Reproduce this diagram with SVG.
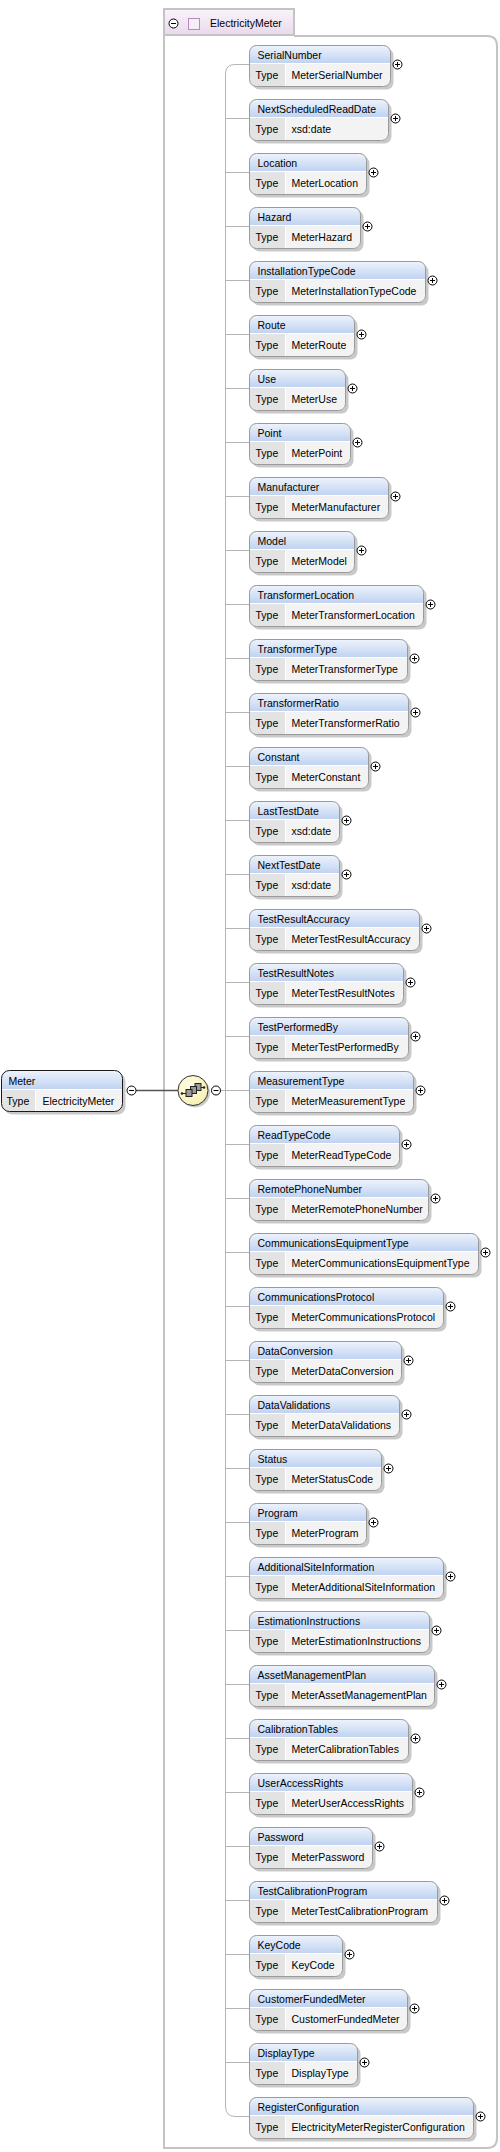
<svg xmlns="http://www.w3.org/2000/svg" xmlns:xlink="http://www.w3.org/1999/xlink" width="500" height="2152" viewBox="0 0 500 2152">
<style>
text{font-family:"Liberation Sans",Arial,sans-serif;font-size:10.5px;fill:#000}
.sh{fill:#c9c9c9}
.row{fill:#e3e3e3}
.hd{fill:url(#gHead)}
.val{fill:#f3f3f3}
.bd{fill:none;stroke:#9a9a9a;stroke-width:1}
.ln{fill:none;stroke:#ffffff;stroke-width:1}
.pl circle{fill:#fff;stroke:#000;stroke-width:1}
.pl path{stroke:#000;stroke-width:1}
</style>
<defs>
<linearGradient id="gHead" x1="0" y1="0" x2="0" y2="1">
<stop offset="0" stop-color="#eef3fc"/>
<stop offset="1" stop-color="#bfd2f1"/>
</linearGradient>
<linearGradient id="gLav" x1="0" y1="0" x2="0" y2="1">
<stop offset="0" stop-color="#faf4fa"/>
<stop offset="1" stop-color="#e9d9ec"/>
</linearGradient>
<radialGradient id="gYel" cx="0.4" cy="0.35" r="0.7">
<stop offset="0" stop-color="#fffde6"/>
<stop offset="1" stop-color="#f6efb0"/>
</radialGradient>
<g id="plus" class="pl"><circle cx="0" cy="0" r="4.5"/><path d="M-2.5,0H2.5M0,-2.5V2.5"/></g>
<g id="minus" class="pl"><circle cx="0" cy="0" r="4.5"/><path d="M-2.5,0H2.5"/></g>
</defs>

<g id="ElectricityMeter">
<path d="M164,35V2148H487Q497,2148 497,2138V46Q497,36 487,36H294" fill="none" stroke="#c4c4c4" stroke-width="2"/>
<rect x="164" y="9" width="130" height="26" fill="url(#gLav)" stroke="#c4c4c4" stroke-width="2"/>
<use href="#minus" x="173.5" y="23.5"/>
<rect x="188.5" y="18.5" width="11" height="11" fill="#f6eef6" stroke="#b58cc2" stroke-width="1"/>
<text x="210" y="27">ElectricityMeter</text>
</g>

<g id="connectors" fill="none" stroke="#b4b4b4" stroke-width="1">
<path d="M249,64.5H235Q225.5,64.5 225.5,74V2106Q225.5,2116.5 235,2116.5H249"/>
<path d="M225.5,118.5H249M225.5,172.5H249M225.5,226.5H249M225.5,280.5H249M225.5,334.5H249M225.5,388.5H249M225.5,442.5H249M225.5,496.5H249M225.5,550.5H249M225.5,604.5H249M225.5,658.5H249M225.5,712.5H249M225.5,766.5H249M225.5,820.5H249M225.5,874.5H249M225.5,928.5H249M225.5,982.5H249M225.5,1036.5H249M225.5,1090.5H249M225.5,1144.5H249M225.5,1198.5H249M225.5,1252.5H249M225.5,1306.5H249M225.5,1360.5H249M225.5,1414.5H249M225.5,1468.5H249M225.5,1522.5H249M225.5,1576.5H249M225.5,1630.5H249M225.5,1684.5H249M225.5,1738.5H249M225.5,1792.5H249M225.5,1846.5H249M225.5,1900.5H249M225.5,1954.5H249M225.5,2008.5H249M225.5,2062.5H249"/>
<path d="M220.5,1090.5H225.5"/>
<path d="M136,1090.5H178" stroke="#555" stroke-width="1.6"/>
</g>

<g id="Meter" transform="translate(1.5,1070.5)">
<rect class="sh" x="3" y="3" width="121" height="41" rx="8"/>
<rect class="row" width="121" height="41" rx="8"/>
<path class="hd" d="M0,19V8Q0,0 8,0H113Q121,0 121,8V19Z"/>
<path class="val" d="M34,19H121V33Q121,41 113,41H34Z"/>
<rect x="0" y="0" width="121" height="41" rx="8" fill="none" stroke="#1a1a1a" stroke-width="1"/>
<path class="ln" d="M0.5,19H120.5M34,19V40.5"/>
<text x="7" y="14">Meter</text>
<text x="5" y="34">Type</text>
<text x="41" y="34">ElectricityMeter</text>
<use href="#minus" x="130" y="20"/>
</g>

<g id="sequence">
<circle cx="195" cy="1092.5" r="15" fill="#c9c9c9"/>
<circle cx="193" cy="1090.5" r="15" fill="url(#gYel)" stroke="#333" stroke-width="1"/>
<path d="M182,1093.5H186M200,1087.5H204" stroke="#222" stroke-width="1"/>
<circle cx="182" cy="1093.5" r="1.3" fill="#222"/>
<circle cx="204" cy="1087.5" r="1.3" fill="#222"/>
<rect x="195" y="1083.5" width="6" height="7" fill="#9a9a9a" stroke="#222" stroke-width="1"/>
<rect x="190.5" y="1086.5" width="6" height="7" fill="#9a9a9a" stroke="#222" stroke-width="1"/>
<rect x="186" y="1089.5" width="6" height="7" fill="#9a9a9a" stroke="#222" stroke-width="1"/>
<use href="#minus" x="216" y="1090.5"/>
</g>

<g id="SerialNumber" transform="translate(249.5,45.5)">
<rect class="sh" x="3" y="3" width="141" height="41" rx="7"/><rect class="row" width="141" height="41" rx="7"/>
<path class="hd" d="M0,18V7Q0,0 7,0H134Q141,0 141,7V18Z"/><path class="val" d="M36,18H141V34Q141,41 134,41H36Z"/>
<rect class="bd" width="141" height="41" rx="7"/><path class="ln" d="M0.5,18H140.5M36,18V40.5"/>
<text x="8" y="13.5">SerialNumber</text><text x="6" y="33.5">Type</text><text x="42" y="33.5">MeterSerialNumber</text>
<use href="#plus" x="148" y="19"/>
</g>

<g id="NextScheduledReadDate" transform="translate(249.5,99.5)">
<rect class="sh" x="3" y="3" width="139" height="41" rx="7"/><rect class="row" width="139" height="41" rx="7"/>
<path class="hd" d="M0,18V7Q0,0 7,0H132Q139,0 139,7V18Z"/><path class="val" d="M36,18H139V34Q139,41 132,41H36Z"/>
<rect class="bd" width="139" height="41" rx="7"/><path class="ln" d="M0.5,18H138.5M36,18V40.5"/>
<text x="8" y="13.5">NextScheduledReadDate</text><text x="6" y="33.5">Type</text><text x="42" y="33.5">xsd:date</text>
<use href="#plus" x="146" y="19"/>
</g>

<g id="Location" transform="translate(249.5,153.5)">
<rect class="sh" x="3" y="3" width="117" height="41" rx="7"/><rect class="row" width="117" height="41" rx="7"/>
<path class="hd" d="M0,18V7Q0,0 7,0H110Q117,0 117,7V18Z"/><path class="val" d="M36,18H117V34Q117,41 110,41H36Z"/>
<rect class="bd" width="117" height="41" rx="7"/><path class="ln" d="M0.5,18H116.5M36,18V40.5"/>
<text x="8" y="13.5">Location</text><text x="6" y="33.5">Type</text><text x="42" y="33.5">MeterLocation</text>
<use href="#plus" x="124" y="19"/>
</g>

<g id="Hazard" transform="translate(249.5,207.5)">
<rect class="sh" x="3" y="3" width="111" height="41" rx="7"/><rect class="row" width="111" height="41" rx="7"/>
<path class="hd" d="M0,18V7Q0,0 7,0H104Q111,0 111,7V18Z"/><path class="val" d="M36,18H111V34Q111,41 104,41H36Z"/>
<rect class="bd" width="111" height="41" rx="7"/><path class="ln" d="M0.5,18H110.5M36,18V40.5"/>
<text x="8" y="13.5">Hazard</text><text x="6" y="33.5">Type</text><text x="42" y="33.5">MeterHazard</text>
<use href="#plus" x="118" y="19"/>
</g>

<g id="InstallationTypeCode" transform="translate(249.5,261.5)">
<rect class="sh" x="3" y="3" width="176" height="41" rx="7"/><rect class="row" width="176" height="41" rx="7"/>
<path class="hd" d="M0,18V7Q0,0 7,0H169Q176,0 176,7V18Z"/><path class="val" d="M36,18H176V34Q176,41 169,41H36Z"/>
<rect class="bd" width="176" height="41" rx="7"/><path class="ln" d="M0.5,18H175.5M36,18V40.5"/>
<text x="8" y="13.5">InstallationTypeCode</text><text x="6" y="33.5">Type</text><text x="42" y="33.5">MeterInstallationTypeCode</text>
<use href="#plus" x="183" y="19"/>
</g>

<g id="Route" transform="translate(249.5,315.5)">
<rect class="sh" x="3" y="3" width="105" height="41" rx="7"/><rect class="row" width="105" height="41" rx="7"/>
<path class="hd" d="M0,18V7Q0,0 7,0H98Q105,0 105,7V18Z"/><path class="val" d="M36,18H105V34Q105,41 98,41H36Z"/>
<rect class="bd" width="105" height="41" rx="7"/><path class="ln" d="M0.5,18H104.5M36,18V40.5"/>
<text x="8" y="13.5">Route</text><text x="6" y="33.5">Type</text><text x="42" y="33.5">MeterRoute</text>
<use href="#plus" x="112" y="19"/>
</g>

<g id="Use" transform="translate(249.5,369.5)">
<rect class="sh" x="3" y="3" width="96" height="41" rx="7"/><rect class="row" width="96" height="41" rx="7"/>
<path class="hd" d="M0,18V7Q0,0 7,0H89Q96,0 96,7V18Z"/><path class="val" d="M36,18H96V34Q96,41 89,41H36Z"/>
<rect class="bd" width="96" height="41" rx="7"/><path class="ln" d="M0.5,18H95.5M36,18V40.5"/>
<text x="8" y="13.5">Use</text><text x="6" y="33.5">Type</text><text x="42" y="33.5">MeterUse</text>
<use href="#plus" x="103" y="19"/>
</g>

<g id="Point" transform="translate(249.5,423.5)">
<rect class="sh" x="3" y="3" width="101" height="41" rx="7"/><rect class="row" width="101" height="41" rx="7"/>
<path class="hd" d="M0,18V7Q0,0 7,0H94Q101,0 101,7V18Z"/><path class="val" d="M36,18H101V34Q101,41 94,41H36Z"/>
<rect class="bd" width="101" height="41" rx="7"/><path class="ln" d="M0.5,18H100.5M36,18V40.5"/>
<text x="8" y="13.5">Point</text><text x="6" y="33.5">Type</text><text x="42" y="33.5">MeterPoint</text>
<use href="#plus" x="108" y="19"/>
</g>

<g id="Manufacturer" transform="translate(249.5,477.5)">
<rect class="sh" x="3" y="3" width="139" height="41" rx="7"/><rect class="row" width="139" height="41" rx="7"/>
<path class="hd" d="M0,18V7Q0,0 7,0H132Q139,0 139,7V18Z"/><path class="val" d="M36,18H139V34Q139,41 132,41H36Z"/>
<rect class="bd" width="139" height="41" rx="7"/><path class="ln" d="M0.5,18H138.5M36,18V40.5"/>
<text x="8" y="13.5">Manufacturer</text><text x="6" y="33.5">Type</text><text x="42" y="33.5">MeterManufacturer</text>
<use href="#plus" x="146" y="19"/>
</g>

<g id="Model" transform="translate(249.5,531.5)">
<rect class="sh" x="3" y="3" width="105" height="41" rx="7"/><rect class="row" width="105" height="41" rx="7"/>
<path class="hd" d="M0,18V7Q0,0 7,0H98Q105,0 105,7V18Z"/><path class="val" d="M36,18H105V34Q105,41 98,41H36Z"/>
<rect class="bd" width="105" height="41" rx="7"/><path class="ln" d="M0.5,18H104.5M36,18V40.5"/>
<text x="8" y="13.5">Model</text><text x="6" y="33.5">Type</text><text x="42" y="33.5">MeterModel</text>
<use href="#plus" x="112" y="19"/>
</g>

<g id="TransformerLocation" transform="translate(249.5,585.5)">
<rect class="sh" x="3" y="3" width="174" height="41" rx="7"/><rect class="row" width="174" height="41" rx="7"/>
<path class="hd" d="M0,18V7Q0,0 7,0H167Q174,0 174,7V18Z"/><path class="val" d="M36,18H174V34Q174,41 167,41H36Z"/>
<rect class="bd" width="174" height="41" rx="7"/><path class="ln" d="M0.5,18H173.5M36,18V40.5"/>
<text x="8" y="13.5">TransformerLocation</text><text x="6" y="33.5">Type</text><text x="42" y="33.5">MeterTransformerLocation</text>
<use href="#plus" x="181" y="19"/>
</g>

<g id="TransformerType" transform="translate(249.5,639.5)">
<rect class="sh" x="3" y="3" width="158" height="41" rx="7"/><rect class="row" width="158" height="41" rx="7"/>
<path class="hd" d="M0,18V7Q0,0 7,0H151Q158,0 158,7V18Z"/><path class="val" d="M36,18H158V34Q158,41 151,41H36Z"/>
<rect class="bd" width="158" height="41" rx="7"/><path class="ln" d="M0.5,18H157.5M36,18V40.5"/>
<text x="8" y="13.5">TransformerType</text><text x="6" y="33.5">Type</text><text x="42" y="33.5">MeterTransformerType</text>
<use href="#plus" x="165" y="19"/>
</g>

<g id="TransformerRatio" transform="translate(249.5,693.5)">
<rect class="sh" x="3" y="3" width="159" height="41" rx="7"/><rect class="row" width="159" height="41" rx="7"/>
<path class="hd" d="M0,18V7Q0,0 7,0H152Q159,0 159,7V18Z"/><path class="val" d="M36,18H159V34Q159,41 152,41H36Z"/>
<rect class="bd" width="159" height="41" rx="7"/><path class="ln" d="M0.5,18H158.5M36,18V40.5"/>
<text x="8" y="13.5">TransformerRatio</text><text x="6" y="33.5">Type</text><text x="42" y="33.5">MeterTransformerRatio</text>
<use href="#plus" x="166" y="19"/>
</g>

<g id="Constant" transform="translate(249.5,747.5)">
<rect class="sh" x="3" y="3" width="119" height="41" rx="7"/><rect class="row" width="119" height="41" rx="7"/>
<path class="hd" d="M0,18V7Q0,0 7,0H112Q119,0 119,7V18Z"/><path class="val" d="M36,18H119V34Q119,41 112,41H36Z"/>
<rect class="bd" width="119" height="41" rx="7"/><path class="ln" d="M0.5,18H118.5M36,18V40.5"/>
<text x="8" y="13.5">Constant</text><text x="6" y="33.5">Type</text><text x="42" y="33.5">MeterConstant</text>
<use href="#plus" x="126" y="19"/>
</g>

<g id="LastTestDate" transform="translate(249.5,801.5)">
<rect class="sh" x="3" y="3" width="90" height="41" rx="7"/><rect class="row" width="90" height="41" rx="7"/>
<path class="hd" d="M0,18V7Q0,0 7,0H83Q90,0 90,7V18Z"/><path class="val" d="M36,18H90V34Q90,41 83,41H36Z"/>
<rect class="bd" width="90" height="41" rx="7"/><path class="ln" d="M0.5,18H89.5M36,18V40.5"/>
<text x="8" y="13.5">LastTestDate</text><text x="6" y="33.5">Type</text><text x="42" y="33.5">xsd:date</text>
<use href="#plus" x="97" y="19"/>
</g>

<g id="NextTestDate" transform="translate(249.5,855.5)">
<rect class="sh" x="3" y="3" width="90" height="41" rx="7"/><rect class="row" width="90" height="41" rx="7"/>
<path class="hd" d="M0,18V7Q0,0 7,0H83Q90,0 90,7V18Z"/><path class="val" d="M36,18H90V34Q90,41 83,41H36Z"/>
<rect class="bd" width="90" height="41" rx="7"/><path class="ln" d="M0.5,18H89.5M36,18V40.5"/>
<text x="8" y="13.5">NextTestDate</text><text x="6" y="33.5">Type</text><text x="42" y="33.5">xsd:date</text>
<use href="#plus" x="97" y="19"/>
</g>

<g id="TestResultAccuracy" transform="translate(249.5,909.5)">
<rect class="sh" x="3" y="3" width="170" height="41" rx="7"/><rect class="row" width="170" height="41" rx="7"/>
<path class="hd" d="M0,18V7Q0,0 7,0H163Q170,0 170,7V18Z"/><path class="val" d="M36,18H170V34Q170,41 163,41H36Z"/>
<rect class="bd" width="170" height="41" rx="7"/><path class="ln" d="M0.5,18H169.5M36,18V40.5"/>
<text x="8" y="13.5">TestResultAccuracy</text><text x="6" y="33.5">Type</text><text x="42" y="33.5">MeterTestResultAccuracy</text>
<use href="#plus" x="177" y="19"/>
</g>

<g id="TestResultNotes" transform="translate(249.5,963.5)">
<rect class="sh" x="3" y="3" width="154" height="41" rx="7"/><rect class="row" width="154" height="41" rx="7"/>
<path class="hd" d="M0,18V7Q0,0 7,0H147Q154,0 154,7V18Z"/><path class="val" d="M36,18H154V34Q154,41 147,41H36Z"/>
<rect class="bd" width="154" height="41" rx="7"/><path class="ln" d="M0.5,18H153.5M36,18V40.5"/>
<text x="8" y="13.5">TestResultNotes</text><text x="6" y="33.5">Type</text><text x="42" y="33.5">MeterTestResultNotes</text>
<use href="#plus" x="161" y="19"/>
</g>

<g id="TestPerformedBy" transform="translate(249.5,1017.5)">
<rect class="sh" x="3" y="3" width="159" height="41" rx="7"/><rect class="row" width="159" height="41" rx="7"/>
<path class="hd" d="M0,18V7Q0,0 7,0H152Q159,0 159,7V18Z"/><path class="val" d="M36,18H159V34Q159,41 152,41H36Z"/>
<rect class="bd" width="159" height="41" rx="7"/><path class="ln" d="M0.5,18H158.5M36,18V40.5"/>
<text x="8" y="13.5">TestPerformedBy</text><text x="6" y="33.5">Type</text><text x="42" y="33.5">MeterTestPerformedBy</text>
<use href="#plus" x="166" y="19"/>
</g>

<g id="MeasurementType" transform="translate(249.5,1071.5)">
<rect class="sh" x="3" y="3" width="164" height="41" rx="7"/><rect class="row" width="164" height="41" rx="7"/>
<path class="hd" d="M0,18V7Q0,0 7,0H157Q164,0 164,7V18Z"/><path class="val" d="M36,18H164V34Q164,41 157,41H36Z"/>
<rect class="bd" width="164" height="41" rx="7"/><path class="ln" d="M0.5,18H163.5M36,18V40.5"/>
<text x="8" y="13.5">MeasurementType</text><text x="6" y="33.5">Type</text><text x="42" y="33.5">MeterMeasurementType</text>
<use href="#plus" x="171" y="19"/>
</g>

<g id="ReadTypeCode" transform="translate(249.5,1125.5)">
<rect class="sh" x="3" y="3" width="150" height="41" rx="7"/><rect class="row" width="150" height="41" rx="7"/>
<path class="hd" d="M0,18V7Q0,0 7,0H143Q150,0 150,7V18Z"/><path class="val" d="M36,18H150V34Q150,41 143,41H36Z"/>
<rect class="bd" width="150" height="41" rx="7"/><path class="ln" d="M0.5,18H149.5M36,18V40.5"/>
<text x="8" y="13.5">ReadTypeCode</text><text x="6" y="33.5">Type</text><text x="42" y="33.5">MeterReadTypeCode</text>
<use href="#plus" x="157" y="19"/>
</g>

<g id="RemotePhoneNumber" transform="translate(249.5,1179.5)">
<rect class="sh" x="3" y="3" width="179" height="41" rx="7"/><rect class="row" width="179" height="41" rx="7"/>
<path class="hd" d="M0,18V7Q0,0 7,0H172Q179,0 179,7V18Z"/><path class="val" d="M36,18H179V34Q179,41 172,41H36Z"/>
<rect class="bd" width="179" height="41" rx="7"/><path class="ln" d="M0.5,18H178.5M36,18V40.5"/>
<text x="8" y="13.5">RemotePhoneNumber</text><text x="6" y="33.5">Type</text><text x="42" y="33.5">MeterRemotePhoneNumber</text>
<use href="#plus" x="186" y="19"/>
</g>

<g id="CommunicationsEquipmentType" transform="translate(249.5,1233.5)">
<rect class="sh" x="3" y="3" width="229" height="41" rx="7"/><rect class="row" width="229" height="41" rx="7"/>
<path class="hd" d="M0,18V7Q0,0 7,0H222Q229,0 229,7V18Z"/><path class="val" d="M36,18H229V34Q229,41 222,41H36Z"/>
<rect class="bd" width="229" height="41" rx="7"/><path class="ln" d="M0.5,18H228.5M36,18V40.5"/>
<text x="8" y="13.5">CommunicationsEquipmentType</text><text x="6" y="33.5">Type</text><text x="42" y="33.5">MeterCommunicationsEquipmentType</text>
<use href="#plus" x="236" y="19"/>
</g>

<g id="CommunicationsProtocol" transform="translate(249.5,1287.5)">
<rect class="sh" x="3" y="3" width="194" height="41" rx="7"/><rect class="row" width="194" height="41" rx="7"/>
<path class="hd" d="M0,18V7Q0,0 7,0H187Q194,0 194,7V18Z"/><path class="val" d="M36,18H194V34Q194,41 187,41H36Z"/>
<rect class="bd" width="194" height="41" rx="7"/><path class="ln" d="M0.5,18H193.5M36,18V40.5"/>
<text x="8" y="13.5">CommunicationsProtocol</text><text x="6" y="33.5">Type</text><text x="42" y="33.5">MeterCommunicationsProtocol</text>
<use href="#plus" x="201" y="19"/>
</g>

<g id="DataConversion" transform="translate(249.5,1341.5)">
<rect class="sh" x="3" y="3" width="152" height="41" rx="7"/><rect class="row" width="152" height="41" rx="7"/>
<path class="hd" d="M0,18V7Q0,0 7,0H145Q152,0 152,7V18Z"/><path class="val" d="M36,18H152V34Q152,41 145,41H36Z"/>
<rect class="bd" width="152" height="41" rx="7"/><path class="ln" d="M0.5,18H151.5M36,18V40.5"/>
<text x="8" y="13.5">DataConversion</text><text x="6" y="33.5">Type</text><text x="42" y="33.5">MeterDataConversion</text>
<use href="#plus" x="159" y="19"/>
</g>

<g id="DataValidations" transform="translate(249.5,1395.5)">
<rect class="sh" x="3" y="3" width="150" height="41" rx="7"/><rect class="row" width="150" height="41" rx="7"/>
<path class="hd" d="M0,18V7Q0,0 7,0H143Q150,0 150,7V18Z"/><path class="val" d="M36,18H150V34Q150,41 143,41H36Z"/>
<rect class="bd" width="150" height="41" rx="7"/><path class="ln" d="M0.5,18H149.5M36,18V40.5"/>
<text x="8" y="13.5">DataValidations</text><text x="6" y="33.5">Type</text><text x="42" y="33.5">MeterDataValidations</text>
<use href="#plus" x="157" y="19"/>
</g>

<g id="Status" transform="translate(249.5,1449.5)">
<rect class="sh" x="3" y="3" width="132" height="41" rx="7"/><rect class="row" width="132" height="41" rx="7"/>
<path class="hd" d="M0,18V7Q0,0 7,0H125Q132,0 132,7V18Z"/><path class="val" d="M36,18H132V34Q132,41 125,41H36Z"/>
<rect class="bd" width="132" height="41" rx="7"/><path class="ln" d="M0.5,18H131.5M36,18V40.5"/>
<text x="8" y="13.5">Status</text><text x="6" y="33.5">Type</text><text x="42" y="33.5">MeterStatusCode</text>
<use href="#plus" x="139" y="19"/>
</g>

<g id="Program" transform="translate(249.5,1503.5)">
<rect class="sh" x="3" y="3" width="117" height="41" rx="7"/><rect class="row" width="117" height="41" rx="7"/>
<path class="hd" d="M0,18V7Q0,0 7,0H110Q117,0 117,7V18Z"/><path class="val" d="M36,18H117V34Q117,41 110,41H36Z"/>
<rect class="bd" width="117" height="41" rx="7"/><path class="ln" d="M0.5,18H116.5M36,18V40.5"/>
<text x="8" y="13.5">Program</text><text x="6" y="33.5">Type</text><text x="42" y="33.5">MeterProgram</text>
<use href="#plus" x="124" y="19"/>
</g>

<g id="AdditionalSiteInformation" transform="translate(249.5,1557.5)">
<rect class="sh" x="3" y="3" width="194" height="41" rx="7"/><rect class="row" width="194" height="41" rx="7"/>
<path class="hd" d="M0,18V7Q0,0 7,0H187Q194,0 194,7V18Z"/><path class="val" d="M36,18H194V34Q194,41 187,41H36Z"/>
<rect class="bd" width="194" height="41" rx="7"/><path class="ln" d="M0.5,18H193.5M36,18V40.5"/>
<text x="8" y="13.5">AdditionalSiteInformation</text><text x="6" y="33.5">Type</text><text x="42" y="33.5">MeterAdditionalSiteInformation</text>
<use href="#plus" x="201" y="19"/>
</g>

<g id="EstimationInstructions" transform="translate(249.5,1611.5)">
<rect class="sh" x="3" y="3" width="180" height="41" rx="7"/><rect class="row" width="180" height="41" rx="7"/>
<path class="hd" d="M0,18V7Q0,0 7,0H173Q180,0 180,7V18Z"/><path class="val" d="M36,18H180V34Q180,41 173,41H36Z"/>
<rect class="bd" width="180" height="41" rx="7"/><path class="ln" d="M0.5,18H179.5M36,18V40.5"/>
<text x="8" y="13.5">EstimationInstructions</text><text x="6" y="33.5">Type</text><text x="42" y="33.5">MeterEstimationInstructions</text>
<use href="#plus" x="187" y="19"/>
</g>

<g id="AssetManagementPlan" transform="translate(249.5,1665.5)">
<rect class="sh" x="3" y="3" width="185" height="41" rx="7"/><rect class="row" width="185" height="41" rx="7"/>
<path class="hd" d="M0,18V7Q0,0 7,0H178Q185,0 185,7V18Z"/><path class="val" d="M36,18H185V34Q185,41 178,41H36Z"/>
<rect class="bd" width="185" height="41" rx="7"/><path class="ln" d="M0.5,18H184.5M36,18V40.5"/>
<text x="8" y="13.5">AssetManagementPlan</text><text x="6" y="33.5">Type</text><text x="42" y="33.5">MeterAssetManagementPlan</text>
<use href="#plus" x="192" y="19"/>
</g>

<g id="CalibrationTables" transform="translate(249.5,1719.5)">
<rect class="sh" x="3" y="3" width="159" height="41" rx="7"/><rect class="row" width="159" height="41" rx="7"/>
<path class="hd" d="M0,18V7Q0,0 7,0H152Q159,0 159,7V18Z"/><path class="val" d="M36,18H159V34Q159,41 152,41H36Z"/>
<rect class="bd" width="159" height="41" rx="7"/><path class="ln" d="M0.5,18H158.5M36,18V40.5"/>
<text x="8" y="13.5">CalibrationTables</text><text x="6" y="33.5">Type</text><text x="42" y="33.5">MeterCalibrationTables</text>
<use href="#plus" x="166" y="19"/>
</g>

<g id="UserAccessRights" transform="translate(249.5,1773.5)">
<rect class="sh" x="3" y="3" width="163" height="41" rx="7"/><rect class="row" width="163" height="41" rx="7"/>
<path class="hd" d="M0,18V7Q0,0 7,0H156Q163,0 163,7V18Z"/><path class="val" d="M36,18H163V34Q163,41 156,41H36Z"/>
<rect class="bd" width="163" height="41" rx="7"/><path class="ln" d="M0.5,18H162.5M36,18V40.5"/>
<text x="8" y="13.5">UserAccessRights</text><text x="6" y="33.5">Type</text><text x="42" y="33.5">MeterUserAccessRights</text>
<use href="#plus" x="170" y="19"/>
</g>

<g id="Password" transform="translate(249.5,1827.5)">
<rect class="sh" x="3" y="3" width="123" height="41" rx="7"/><rect class="row" width="123" height="41" rx="7"/>
<path class="hd" d="M0,18V7Q0,0 7,0H116Q123,0 123,7V18Z"/><path class="val" d="M36,18H123V34Q123,41 116,41H36Z"/>
<rect class="bd" width="123" height="41" rx="7"/><path class="ln" d="M0.5,18H122.5M36,18V40.5"/>
<text x="8" y="13.5">Password</text><text x="6" y="33.5">Type</text><text x="42" y="33.5">MeterPassword</text>
<use href="#plus" x="130" y="19"/>
</g>

<g id="TestCalibrationProgram" transform="translate(249.5,1881.5)">
<rect class="sh" x="3" y="3" width="188" height="41" rx="7"/><rect class="row" width="188" height="41" rx="7"/>
<path class="hd" d="M0,18V7Q0,0 7,0H181Q188,0 188,7V18Z"/><path class="val" d="M36,18H188V34Q188,41 181,41H36Z"/>
<rect class="bd" width="188" height="41" rx="7"/><path class="ln" d="M0.5,18H187.5M36,18V40.5"/>
<text x="8" y="13.5">TestCalibrationProgram</text><text x="6" y="33.5">Type</text><text x="42" y="33.5">MeterTestCalibrationProgram</text>
<use href="#plus" x="195" y="19"/>
</g>

<g id="KeyCode" transform="translate(249.5,1935.5)">
<rect class="sh" x="3" y="3" width="93" height="41" rx="7"/><rect class="row" width="93" height="41" rx="7"/>
<path class="hd" d="M0,18V7Q0,0 7,0H86Q93,0 93,7V18Z"/><path class="val" d="M36,18H93V34Q93,41 86,41H36Z"/>
<rect class="bd" width="93" height="41" rx="7"/><path class="ln" d="M0.5,18H92.5M36,18V40.5"/>
<text x="8" y="13.5">KeyCode</text><text x="6" y="33.5">Type</text><text x="42" y="33.5">KeyCode</text>
<use href="#plus" x="100" y="19"/>
</g>

<g id="CustomerFundedMeter" transform="translate(249.5,1989.5)">
<rect class="sh" x="3" y="3" width="158" height="41" rx="7"/><rect class="row" width="158" height="41" rx="7"/>
<path class="hd" d="M0,18V7Q0,0 7,0H151Q158,0 158,7V18Z"/><path class="val" d="M36,18H158V34Q158,41 151,41H36Z"/>
<rect class="bd" width="158" height="41" rx="7"/><path class="ln" d="M0.5,18H157.5M36,18V40.5"/>
<text x="8" y="13.5">CustomerFundedMeter</text><text x="6" y="33.5">Type</text><text x="42" y="33.5">CustomerFundedMeter</text>
<use href="#plus" x="165" y="19"/>
</g>

<g id="DisplayType" transform="translate(249.5,2043.5)">
<rect class="sh" x="3" y="3" width="108" height="41" rx="7"/><rect class="row" width="108" height="41" rx="7"/>
<path class="hd" d="M0,18V7Q0,0 7,0H101Q108,0 108,7V18Z"/><path class="val" d="M36,18H108V34Q108,41 101,41H36Z"/>
<rect class="bd" width="108" height="41" rx="7"/><path class="ln" d="M0.5,18H107.5M36,18V40.5"/>
<text x="8" y="13.5">DisplayType</text><text x="6" y="33.5">Type</text><text x="42" y="33.5">DisplayType</text>
<use href="#plus" x="115" y="19"/>
</g>

<g id="RegisterConfiguration" transform="translate(249.5,2097.5)">
<rect class="sh" x="3" y="3" width="224" height="41" rx="7"/><rect class="row" width="224" height="41" rx="7"/>
<path class="hd" d="M0,18V7Q0,0 7,0H217Q224,0 224,7V18Z"/><path class="val" d="M36,18H224V34Q224,41 217,41H36Z"/>
<rect class="bd" width="224" height="41" rx="7"/><path class="ln" d="M0.5,18H223.5M36,18V40.5"/>
<text x="8" y="13.5">RegisterConfiguration</text><text x="6" y="33.5">Type</text><text x="42" y="33.5">ElectricityMeterRegisterConfiguration</text>
<use href="#plus" x="231" y="19"/>
</g>
</svg>
